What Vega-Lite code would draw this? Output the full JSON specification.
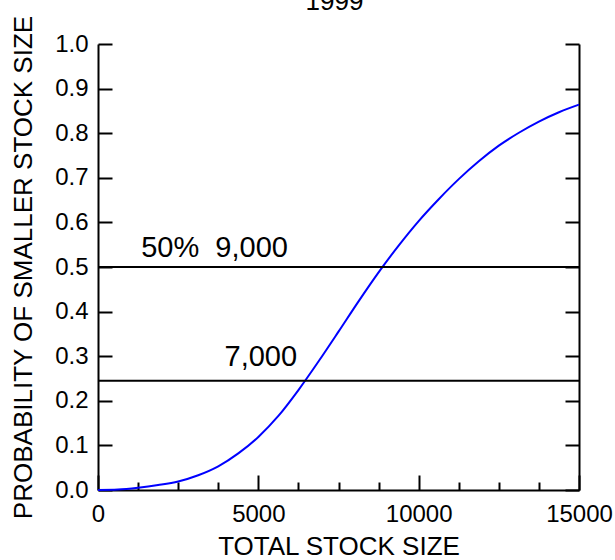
{
  "$schema": "https://vega.github.io/schema/vega-lite/v6.json",
  "width": 481,
  "height": 446,
  "autosize": {"type": "none"},
  "padding": {"left": 98, "top": 44, "right": 36, "bottom": 70},
  "background": "white",
  "title": {"text": "1999", "fontSize": 26, "font": "Liberation Sans", "fontWeight": "normal", "color": "black", "anchor": "middle", "frame": "group", "baseline": "alphabetic", "offset": 0, "dy": 21, "dx": -4},
  "config": {
    "view": {"stroke": null},
    "font": "Liberation Sans",
    "axis": {"grid": false, "domainColor": "black", "tickColor": "black", "domainWidth": 2, "tickWidth": 2, "labelColor": "black", "titleColor": "black", "labelFont": "Liberation Sans", "titleFont": "Liberation Sans", "titleFontWeight": "normal", "labelFontSize": 24, "titleFontSize": 26}
  },
  "resolve": {"axis": {"x": "independent", "y": "independent"}},
  "layer": [
    {
      "data": {"values": [
        {"size": 0, "prob": 0},
        {"size": 625, "prob": 0.001},
        {"size": 1250, "prob": 0.005},
        {"size": 1875, "prob": 0.011},
        {"size": 2500, "prob": 0.019},
        {"size": 3125, "prob": 0.033},
        {"size": 3750, "prob": 0.053},
        {"size": 4375, "prob": 0.082},
        {"size": 5000, "prob": 0.119},
        {"size": 5625, "prob": 0.166},
        {"size": 6250, "prob": 0.224},
        {"size": 6875, "prob": 0.288},
        {"size": 7500, "prob": 0.355},
        {"size": 8125, "prob": 0.423},
        {"size": 8750, "prob": 0.488},
        {"size": 9375, "prob": 0.548},
        {"size": 10000, "prob": 0.603},
        {"size": 10625, "prob": 0.652},
        {"size": 11250, "prob": 0.697},
        {"size": 11875, "prob": 0.737},
        {"size": 12500, "prob": 0.772},
        {"size": 13125, "prob": 0.801},
        {"size": 13750, "prob": 0.826},
        {"size": 14375, "prob": 0.847},
        {"size": 15000, "prob": 0.864}
      ]},
      "mark": {"type": "line", "color": "#0000ff", "strokeWidth": 2, "interpolate": "monotone"},
      "encoding": {
        "x": {"field": "size", "type": "quantitative", "scale": {"domain": [0, 15000], "nice": false, "zero": false},
              "axis": {"orient": "bottom", "title": "TOTAL STOCK SIZE", "values": [0, 5000, 10000, 15000], "format": "d", "labelFlush": false, "tickSize": -15, "labelPadding": 27, "labelAngle": 0, "titlePadding": 7}},
        "y": {"field": "prob", "type": "quantitative", "scale": {"domain": [0, 1], "nice": false},
              "axis": {"orient": "left", "title": "PROBABILITY OF SMALLER STOCK SIZE", "values": [0, 0.1, 0.2, 0.3, 0.4, 0.5, 0.6, 0.7, 0.8, 0.9, 1.0], "format": ".1f", "labelFlush": false, "tickSize": -14, "labelPadding": 24, "titlePadding": 18}}
      }
    },
    {
      "data": {"values": [{"level": 0.5}, {"level": 0.245}]},
      "mark": {"type": "rule", "color": "black", "strokeWidth": 2},
      "encoding": {
        "y": {"field": "level", "type": "quantitative",
              "axis": {"orient": "right", "title": null, "labels": false, "values": [0, 0.1, 0.2, 0.3, 0.4, 0.5, 0.6, 0.7, 0.8, 0.9, 1.0], "tickSize": -14}}
      }
    },
    {
      "data": {"values": [
        {"label": "50%\u00a0\u00a09,000", "px": 1347, "py": 0.523},
        {"label": "7,000", "px": 3945, "py": 0.278}
      ]},
      "mark": {"type": "text", "align": "left", "baseline": "alphabetic", "fontSize": 29, "font": "Liberation Sans", "color": "black"},
      "encoding": {
        "x": {"field": "px", "type": "quantitative",
              "axis": {"orient": "bottom", "title": null, "labels": false, "domain": false, "values": [1250, 2500, 3750, 6250, 7500, 8750, 11250, 12500, 13750], "tickSize": -8}},
        "y": {"field": "py", "type": "quantitative", "axis": null},
        "text": {"field": "label"}
      }
    }
  ]
}
